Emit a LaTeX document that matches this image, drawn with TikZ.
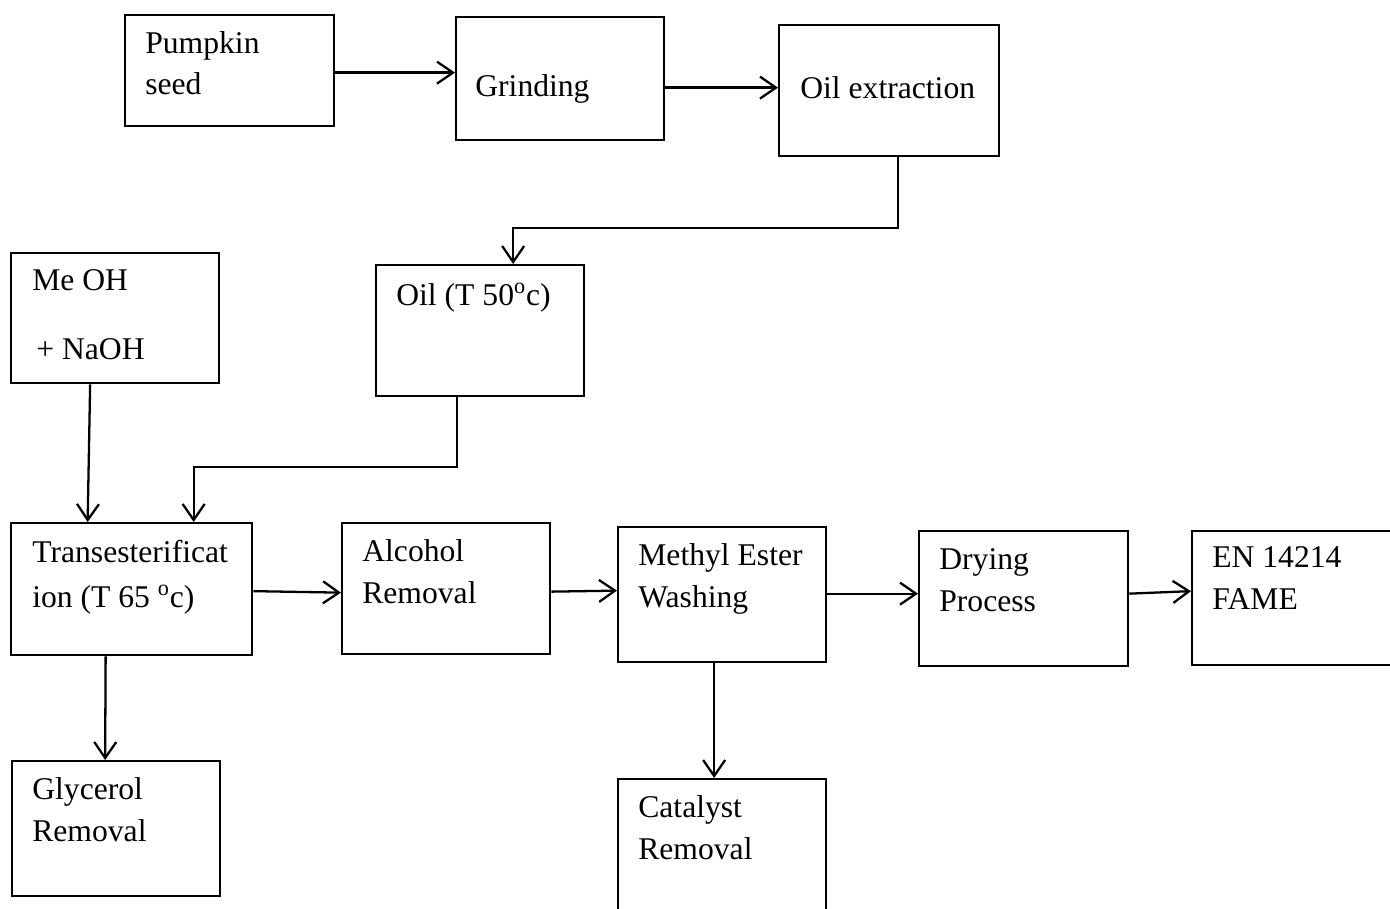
\documentclass[tikz,border=0pt]{standalone}
\usepackage{fontspec}
\setmainfont{Liberation Serif}
\usepackage{tikz}
\usetikzlibrary{arrows.meta,calc}

\begin{document}
\begin{tikzpicture}[x=0.02cm, y=-0.02cm,
    box/.style 2 args={draw, line width=1.3pt, anchor=north west, inner sep=0pt,
        minimum width=#1*0.02cm, minimum height=#2*0.02cm},
    txt/.style={anchor=base west, align=left, inner sep=0pt,
        font=\fontsize{18}{23.9}\selectfont},
    arr/.style={draw, line width=1.3pt, -{Straight Barb[length=3.2mm, width=4.4mm, line width=1.3pt]}}]
    \useasboundingbox (0,0) rectangle (1390,909);

    % Boxes
    \node[box={209}{111}] (seed) at (124,14) {};
    \node[box={208}{123}] (grind) at (455,16) {};
    \node[box={220}{131}] (oilext) at (778,24) {};
    \node[box={208}{130}] (meoh) at (10,252) {};
    \node[box={208}{131}] (oil) at (375,264) {};
    \node[box={241}{132}] (trans) at (10,522) {};
    \node[box={208}{131}] (alcohol) at (341,522) {};
    \node[box={208}{135}] (methyl) at (617,526) {};
    \node[box={209}{135}] (drying) at (918,530) {};
    \node[box={215}{134}] (fame) at (1191,530) {};
    \node[box={208}{135}] (glycerol) at (11,760) {};
    \node[box={208}{145}] (catalyst) at (617,778) {};

    % Texts (placed at the baseline of their last line)
    \node[txt] (seed-t) at (145,95) {Pumpkin\\seed};
    \node[txt] (grind-t) at (475,97) {Grinding};
    \node[txt] (oilext-t) at (800,99) {Oil extraction};
    \node[txt] (meoh-t) at (32,359) {Me OH\\[0.54cm]\hspace{0.08cm}+ NaOH};
    \node[txt] (oil-t) at (396,305) {Oil (T 50\textsuperscript{o}c)};
    \node[txt] (trans-t) at (32,607) {Transesterificat\\[0.06cm]ion (T 65 \textsuperscript{o}c)};
    \node[txt] (alcohol-t) at (362,603) {Alcohol\\Removal};
    \node[txt] (methyl-t) at (638,607) {Methyl Ester\\Washing};
    \node[txt] (drying-t) at (939,611) {Drying\\Process};
    \node[txt] (fame-t) at (1212,609) {EN 14214\\FAME};
    \node[txt] (glycerol-t) at (32,841) {Glycerol\\Removal};
    \node[txt] (catalyst-t) at (638,859) {Catalyst\\Removal};

    % Arrows
    \draw[arr] ($(seed.east)+(0,2)$) -- ($(seed.east -| grind.west)+(0,2)$);
    \draw[arr] ($(grind.east)+(0,9)$) -- ($(grind.east -| oilext.west)+(0,9)$);
    \draw[arr] ($(oilext.south)+(9,0)$) -- ++(0,71) -| ($(oil.north)+(33,0)$);
    \draw[arr] ($(meoh.south)+(-25,0)$) -- ($(trans.north)+(-44,0)$);
    \draw[arr] ($(oil.south)+(-23,0)$) -- ++(0,70) -| ($(trans.north)+(62,0)$);
    \draw[arr] ($(trans.east)+(0,2)$) -- ($(alcohol.west)+(0,4)$);
    \draw[arr] ($(alcohol.east)+(0,3)$) -- ($(methyl.west)+(0,-4)$);
    \draw[arr] ($(methyl.east)+(0,-1)$) -- ($(methyl.east -| drying.west)+(0,-1)$);
    \draw[arr] ($(drying.east)+(0,-5)$) -- ($(fame.west)+(0,-7)$);
    \draw[arr] ($(trans.south)+(-26,0)$) -- ($(glycerol.north)+(-11,0)$);
    \draw[arr] ($(methyl.south)+(-8,0)$) -- ($(catalyst.north)+(-8,0)$);
\end{tikzpicture}
\end{document}
